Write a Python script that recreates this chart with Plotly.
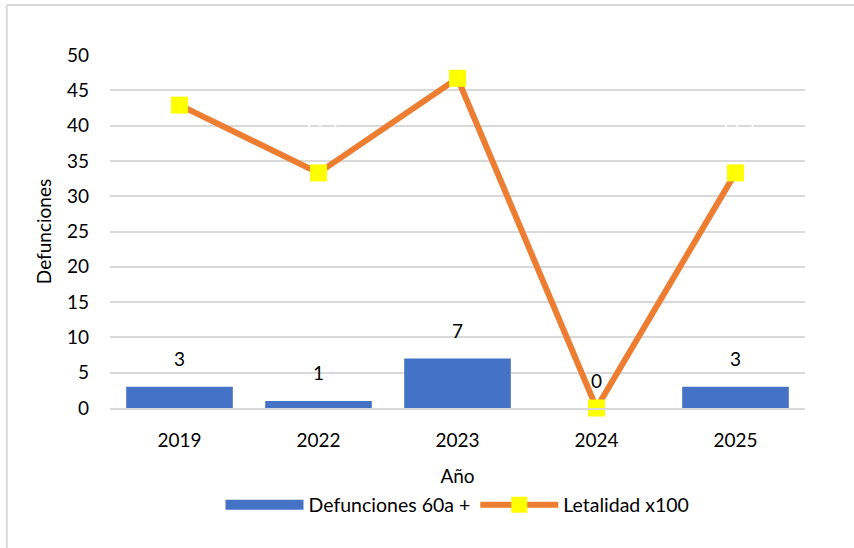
import plotly.graph_objects as go

years = ["2019", "2022", "2023", "2024", "2025"]
defunciones = [3, 1, 7, 0, 3]
letalidad = [42.9, 33.3, 46.7, 0, 33.3]
y_ticks = [0, 5, 10, 15, 20, 25, 30, 35, 40, 45, 50]

FONT = "Lato, Carlito, Calibri, sans-serif"
BLUE = "#4472C4"
ORANGE = "#ED7D31"
YELLOW = "#FFFF00"

fig = go.Figure()
fig.add_trace(go.Bar(x=years, y=defunciones, marker=dict(color=BLUE, line=dict(width=0)),
                     showlegend=False, name="Defunciones 60a +"))
# legend proxy for the bar series (wide rectangle)
fig.add_trace(go.Scatter(x=[years[0]], y=[None], mode="lines", line=dict(color=BLUE, width=12),
                         name="Defunciones 60a +"))
fig.add_trace(go.Scatter(x=years, y=letalidad, mode="lines+markers", name="Letalidad x100",
                         line=dict(color=ORANGE, width=6), cliponaxis=False,
                         marker=dict(symbol="square", size=17, color=YELLOW, line=dict(width=0))))

annotations = []
for i, v in enumerate(defunciones):
    annotations.append(dict(x=i, y=v, text=str(v), showarrow=False, yanchor="middle",
                            yshift=28, font=dict(family=FONT, size=19, color="#000000")))
for i, v in enumerate(letalidad):
    annotations.append(dict(x=i, y=v, text=f"{v:g}", showarrow=False, yanchor="middle",
                            yshift=49, font=dict(family=FONT, size=19, color="#FFFFFF")))

fig.update_layout(
    width=854, height=548,
    margin=dict(l=110, r=49, t=55, b=140, autoexpand=False),
    paper_bgcolor="white", plot_bgcolor="white",
    font=dict(family=FONT, size=19, color="#000000"),
    bargap=0.233,
    annotations=annotations,
    legend=dict(orientation="h", x=0.5, xanchor="center", y=-0.275, yanchor="middle",
                itemwidth=78, font=dict(size=19.5), traceorder="normal"),
    shapes=[
        dict(type="line", xref="paper", yref="paper", x0=-0.1485, x1=1.2, y0=1.1416, y1=1.1416,
             line=dict(color="#D9D9D9", width=2)),
        dict(type="line", xref="paper", yref="paper", x0=-0.1485, x1=-0.1485, y0=-0.5, y1=1.1416,
             line=dict(color="#D9D9D9", width=2)),
    ],
)
fig.update_xaxes(type="category", range=[-0.5, 4.5], showgrid=False, showline=True,
                 linecolor="#D9D9D9", linewidth=2,
                 ticks="", tickfont=dict(size=19), ticklabelstandoff=14,
                 title=dict(text="Año", font=dict(size=19), standoff=20))
fig.update_yaxes(range=[0, 50], tickvals=y_ticks, showgrid=True, gridcolor="#D9D9D9", gridwidth=1.5,
                 zeroline=False, showline=False, ticks="", tickfont=dict(size=19),
                 ticklabelstandoff=20,
                 title=dict(text="Defunciones", font=dict(size=19), standoff=10))

fig.write_html("out.html", config={"displayModeBar": False},
               post_script="document.body.style.margin='0';document.body.style.overflow='hidden';")
